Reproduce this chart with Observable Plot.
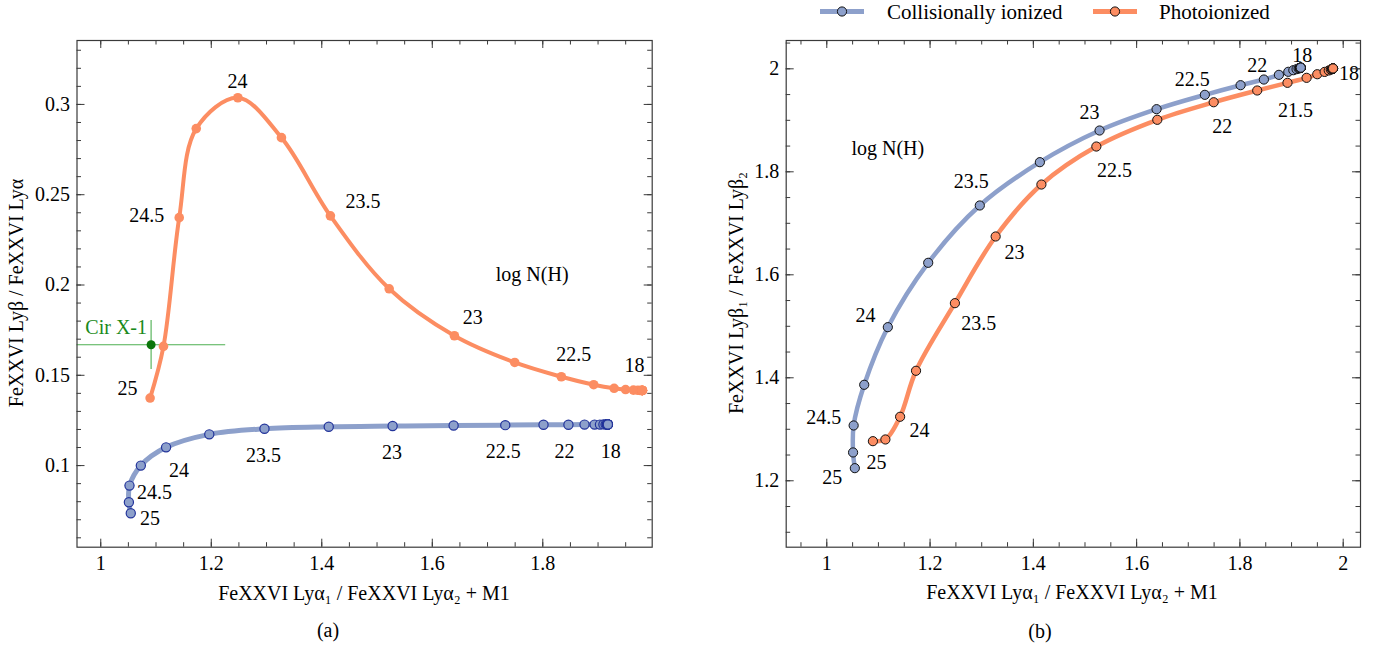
<!DOCTYPE html>
<html>
<head>
<meta charset="utf-8">
<script src="https://cdn.jsdelivr.net/npm/d3@7"></script>
<script src="https://cdn.jsdelivr.net/npm/@observablehq/plot@0.6"></script>
<style>
  html, body { margin: 0; padding: 0; background: #fff; }
  #wrap { position: relative; width: 1385px; height: 649px; overflow: hidden; font-family: "Liberation Serif", "DejaVu Serif", serif; color: #000; }
  .pane { position: absolute; top: 0; }
  .t { position: absolute; white-space: nowrap; font-size: 20px; line-height: 1; transform: translate(-50%, -50%); }
  .ty { position: absolute; white-space: nowrap; font-size: 20px; line-height: 1; transform: translate(-50%, -50%) rotate(-90deg); }
  #legend { position: absolute; left: 0; top: 0; }
</style>
</head>
<body>
<div id="wrap">
  <div id="pa" class="pane" style="left:0px"></div>
  <div id="pb" class="pane" style="left:700px"></div>
</div>
<script>
// ---------------- data ----------------
// log N(H) grid (both models)
const logNH = [25, 24.75, 24.5, 24.25, 24, 23.75, 23.5, 23.25, 23, 22.75, 22.5, 22.25, 22,
  21.75, 21.5, 21.25, 21, 20.75, 20.5, 20.25, 20, 19.75, 19.5, 19.25, 19, 18.75, 18.5, 18.25, 18];

// Collisionally ionized
const ciLya1Lya2 = [1.0543, 1.0509, 1.0520, 1.0725, 1.1182, 1.1964, 1.2963, 1.4126, 1.5282, 1.6386, 1.7321, 1.8013, 1.8464,
  1.8755, 1.8937, 1.9034, 1.9097, 1.9136, 1.9155, 1.9165, 1.9170, 1.9173, 1.9175, 1.9176, 1.9177, 1.9177, 1.9178, 1.9178, 1.9178];
const ciLybLya = [0.0736, 0.0797, 0.0889, 0.1000, 0.1101, 0.1173, 0.1204, 0.1215, 0.1219, 0.1222, 0.1224, 0.1226, 0.1226,
  0.1227, 0.1227, 0.1227, 0.1228, 0.1228, 0.1228, 0.1228, 0.1228, 0.1228, 0.1228, 0.1228, 0.1228, 0.1228, 0.1228, 0.1228, 0.1228];
const ciLyb1Lyb2 = [1.2245, 1.2550, 1.3074, 1.3864, 1.4983, 1.6233, 1.7346, 1.8187, 1.8802, 1.9216, 1.9495, 1.9682, 1.9792,
  1.9883, 1.9942, 1.9973, 1.9993, 2.0006, 2.0013, 2.0017, 2.0019, 2.0020, 2.0021, 2.0021, 2.0022, 2.0022, 2.0022, 2.0022, 2.0022];

// Photoionized
const piLya1Lya2 = [1.0893, 1.1135, 1.1420, 1.1728, 1.2481, 1.3270, 1.4156, 1.5220, 1.6400, 1.7492, 1.8335, 1.8921, 1.9291,
  1.9498, 1.9640, 1.9720, 1.9760, 1.9780, 1.9790, 1.9795, 1.9798, 1.9800, 1.9801, 1.9802, 1.9802, 1.9803, 1.9803, 1.9803, 1.9803];
const piLybLya = [0.1374, 0.1660, 0.2373, 0.2866, 0.3037, 0.2816, 0.2383, 0.1979, 0.1719, 0.1571, 0.1492, 0.1448, 0.1428,
  0.1421, 0.1418, 0.1417, 0.1416, 0.1416, 0.1416, 0.1416, 0.1416, 0.1416, 0.1416, 0.1416, 0.1416, 0.1416, 0.1416, 0.1416, 0.1416];
const piLyb1Lyb2 = [1.2769, 1.2802, 1.3243, 1.4136, 1.5449, 1.6744, 1.7753, 1.8491, 1.9010, 1.9351, 1.9579, 1.9728, 1.9825,
  1.9895, 1.9940, 1.9968, 1.9985, 1.9994, 1.9999, 2.0002, 2.0004, 2.0005, 2.0006, 2.0006, 2.0007, 2.0007, 2.0007, 2.0007, 2.0007];

// Cir X-1 measurement (value, error-bar ends)
const cirName = ["Cir X-1"];
const cirX = [1.0911], cirXlo = [0.93], cirXhi = [1.2252];
const cirY = [0.1669], cirYlo = [0.1535], cirYhi = [0.1806];
const cirLabelX = [1.0837], cirLabelY = [0.1762];

// log N(H) annotations: panel (a)
const aCiLabText = ["25", "24.5", "24", "23.5", "23", "22.5", "22", "18"];
const aCiLabX = [1.0893, 1.0971, 1.1418, 1.2946, 1.5272, 1.7283, 1.8393, 1.923];
const aCiLabY = [0.0705, 0.0852, 0.0972, 0.1057, 0.1070, 0.1078, 0.1078, 0.1075];
const aPiLabText = ["25", "24.5", "24", "23.5", "23", "22.5", "18"];
const aPiLabX = [1.0482, 1.0833, 1.2475, 1.4746, 1.6732, 1.8562, 1.966];
const aPiLabY = [0.1424, 0.2383, 0.3129, 0.2462, 0.1817, 0.1614, 0.1556];
const aTitleLab = ["log N(H)"], aTitleX = [1.7808], aTitleY = [0.2060];

// log N(H) annotations: panel (b)
const bCiLabText = ["25", "24.5", "24", "23.5", "23", "22.5", "22", "18"];
const bCiLabX = [1.0105, 0.9942, 1.075, 1.2797, 1.5088, 1.7077, 1.8336, 1.9208];
const bCiLabY = [1.207, 1.3235, 1.521, 1.7818, 1.9157, 1.9786, 2.0064, 2.0258];
const bPiLabText = ["25", "24", "23.5", "23", "22.5", "22", "21.5", "18"];
const bPiLabX = [1.0963, 1.1795, 1.2944, 1.3635, 1.5572, 1.7658, 1.9078, 2.011];
const bPiLabY = [1.235, 1.2977, 1.5049, 1.6439, 1.8025, 1.888, 1.919, 1.9915];
const bTitleLab = ["log N(H)"], bTitleX = [1.1181], bTitleY = [1.8447];

// ticks
const aXMajor = [1, 1.2, 1.4, 1.6, 1.8];
const aYMajor = [0.1, 0.15, 0.2, 0.25, 0.3];
const bXMajor = [1, 1.2, 1.4, 1.6, 1.8, 2];
const bYMajor = [1.2, 1.4, 1.6, 1.8, 2];

// texts
const seriesNames = ["Collisionally ionized", "Photoionized"];
const xTitle = "FeXXVI Lyα₁ / FeXXVI Lyα₂ + M1";
const aYTitle = "FeXXVI Lyβ / FeXXVI Lyα";
const bYTitle = "FeXXVI Lyβ₁ / FeXXVI Lyβ₂";
const panelTags = ["(a)", "(b)"];

// ---------------- layout / style ----------------
const BLUE = "#8da0cb", ORANGE = "#fc8d62";
const H = 649, FT = 40, FB = 546.7;
const FH = FB - FT;
const FRAME = "#3a3a3a";
const FONT = "'Liberation Serif', 'DejaVu Serif', serif";

const rows = (xs, ys) => xs.map((x, i) => ({x, y: ys[i], n: logNH[i]}));
const labs = (t, xs, ys) => t.map((s, i) => ({t: s, x: xs[i], y: ys[i]}));

function frameTicks(xMinor, xMajor, yMinor, yMajor, fw) {
  const mn = 4.5, mj = 8;
  const st = {stroke: FRAME, strokeWidth: 1};
  return [
    Plot.ruleX(xMinor, {...st, insetTop: FH - mn}),
    Plot.ruleX(xMinor, {...st, insetBottom: FH - mn}),
    Plot.ruleX(xMajor, {...st, insetTop: FH - mj}),
    Plot.ruleX(xMajor, {...st, insetBottom: FH - mj}),
    Plot.ruleY(yMinor, {...st, insetRight: fw - mn}),
    Plot.ruleY(yMinor, {...st, insetLeft: fw - mn}),
    Plot.ruleY(yMajor, {...st, insetRight: fw - mj}),
    Plot.ruleY(yMajor, {...st, insetLeft: fw - mj}),
    Plot.frame({stroke: FRAME, strokeWidth: 1.2})
  ];
}

const fmt = d3.format("~g");
const stepRange = (a, b, s) => {
  const out = [];
  for (let k = Math.ceil(a / s - 1e-9); k * s <= b + 1e-9; k++) out.push(+(k * s).toFixed(4));
  return out;
};

// ---------------- panel (a) ----------------
const aDomX = [0.957, 1.998], aDomY = [0.0548, 0.3354];
const aL = 76.5, aR = 651.7, aW = 700;
const aFW = aR - aL;
const aXMinor = stepRange(aDomX[0] + 0.001, aDomX[1] - 0.001, 0.05);
const aYMinor = stepRange(aDomY[0], aDomY[1], 0.01);
const cirRow = [{x: cirX[0], xlo: cirXlo[0], xhi: cirXhi[0], y: cirY[0], ylo: cirYlo[0], yhi: cirYhi[0]}];

const plotA = Plot.plot({
  width: aW, height: H,
  marginLeft: aL, marginRight: aW - aR, marginTop: FT, marginBottom: H - FB,
  style: {fontFamily: FONT, fontSize: "20px", color: "#000", background: "transparent", maxWidth: "none"},
  x: {domain: aDomX},
  y: {domain: aDomY},
  marks: [
    Plot.link(cirRow, {x1: "xlo", x2: "xhi", y1: "y", y2: "y", stroke: "#4caf50", strokeWidth: 1.1, clip: true}),
    Plot.link(cirRow, {x1: "x", x2: "x", y1: "ylo", y2: "yhi", stroke: "#4caf50", strokeWidth: 1.1}),
    Plot.line(rows(ciLya1Lya2, ciLybLya), {x: "x", y: "y", stroke: BLUE, strokeWidth: 5, curve: "catmull-rom"}),
    Plot.line(rows(piLya1Lya2, piLybLya), {x: "x", y: "y", stroke: ORANGE, strokeWidth: 4, curve: "catmull-rom"}),
    Plot.dot(rows(ciLya1Lya2, ciLybLya), {x: "x", y: "y", r: 4.6, fill: BLUE, stroke: "#22339a", strokeWidth: 1.2}),
    Plot.dot(rows(piLya1Lya2, piLybLya), {x: "x", y: "y", r: 4.8, fill: ORANGE}),
    Plot.dot(cirRow, {x: "x", y: "y", r: 4.5, fill: "#0a760a"}),
    Plot.text(cirName, {x: () => cirLabelX[0], y: () => cirLabelY[0], text: d => d, textAnchor: "end", fill: "#1a8a1a", fontSize: 20}),
    Plot.text(labs(aCiLabText, aCiLabX, aCiLabY), {x: "x", y: "y", text: "t", fontSize: 20, fill: "#000"}),
    Plot.text(labs(aPiLabText, aPiLabX, aPiLabY), {x: "x", y: "y", text: "t", fontSize: 20, fill: "#000"}),
    Plot.text(labs(aTitleLab, aTitleX, aTitleY), {x: "x", y: "y", text: "t", fontSize: 20, fill: "#000"}),
    ...frameTicks(aXMinor, aXMajor, aYMinor, aYMajor, aFW),
    Plot.axisX(aXMajor, {anchor: "bottom", tickSize: 0, tickPadding: 9, tickFormat: fmt, label: null, fontSize: 20}),
    Plot.axisY(aYMajor, {anchor: "left", tickSize: 0, tickPadding: 7, tickFormat: fmt, label: null, fontSize: 20})
  ]
});
document.getElementById("pa").appendChild(plotA);

// ---------------- panel (b) ----------------
const bDomX = [0.9214, 2.0335], bDomY = [1.071, 2.055];
const bLeft = 700, bL = 785.7 - bLeft, bW = 685, bR = 1360 - bLeft;
const bFW = bR - bL;
const bXMinor = stepRange(bDomX[0], bDomX[1], 0.05);
const bYMinor = stepRange(bDomY[0], bDomY[1], 0.05);

const plotB = Plot.plot({
  width: bW, height: H,
  marginLeft: bL, marginRight: bW - bR, marginTop: FT, marginBottom: H - FB,
  style: {fontFamily: FONT, fontSize: "20px", color: "#000", background: "transparent", maxWidth: "none"},
  x: {domain: bDomX},
  y: {domain: bDomY},
  marks: [
    Plot.line(rows(ciLya1Lya2, ciLyb1Lyb2), {x: "x", y: "y", stroke: BLUE, strokeWidth: 4.5, curve: "catmull-rom"}),
    Plot.line(rows(piLya1Lya2, piLyb1Lyb2), {x: "x", y: "y", stroke: ORANGE, strokeWidth: 4.5, curve: "catmull-rom"}),
    Plot.dot(rows(ciLya1Lya2, ciLyb1Lyb2), {x: "x", y: "y", r: 4.6, fill: BLUE, stroke: "#111", strokeWidth: 1}),
    Plot.dot(rows(piLya1Lya2, piLyb1Lyb2), {x: "x", y: "y", r: 4.6, fill: ORANGE, stroke: "#111", strokeWidth: 1}),
    Plot.text(labs(bCiLabText, bCiLabX, bCiLabY), {x: "x", y: "y", text: "t", fontSize: 20, fill: "#000"}),
    Plot.text(labs(bPiLabText, bPiLabX, bPiLabY), {x: "x", y: "y", text: "t", fontSize: 20, fill: "#000"}),
    Plot.text(labs(bTitleLab, bTitleX, bTitleY), {x: "x", y: "y", text: "t", fontSize: 20, fill: "#000"}),
    ...frameTicks(bXMinor, bXMajor, bYMinor, bYMajor, bFW),
    Plot.axisX(bXMajor, {anchor: "bottom", tickSize: 0, tickPadding: 9, tickFormat: fmt, label: null, fontSize: 20}),
    Plot.axisY(bYMajor, {anchor: "left", tickSize: 0, tickPadding: 7, tickFormat: fmt, label: null, fontSize: 20})
  ]
});
document.getElementById("pb").appendChild(plotB);

// ---------------- titles, captions, legend ----------------
const wrap = document.getElementById("wrap");
function addText(cls, txt, cx, cy) {
  const d = document.createElement("div");
  d.className = cls; d.textContent = txt;
  d.style.left = cx + "px"; d.style.top = cy + "px";
  wrap.appendChild(d);
}
addText("t", xTitle, 364, 593);
addText("t", xTitle, 1072, 592);
addText("ty", aYTitle, 16, 293);
addText("ty", bYTitle, 736, 293);
addText("t", panelTags[0], 328, 630);
addText("t", panelTags[1], 1040, 631);

// legend (swatches + names)
const ns = "http://www.w3.org/2000/svg";
const lg = document.createElementNS(ns, "svg");
lg.setAttribute("id", "legend");
lg.setAttribute("width", 1385); lg.setAttribute("height", 30);
const legItems = [
  {name: seriesNames[0], color: BLUE, x0: 820, tx: 887},
  {name: seriesNames[1], color: ORANGE, x0: 1093, tx: 1159}
];
for (const it of legItems) {
  const ln = document.createElementNS(ns, "line");
  ln.setAttribute("x1", it.x0); ln.setAttribute("x2", it.x0 + 44);
  ln.setAttribute("y1", 11.5); ln.setAttribute("y2", 11.5);
  ln.setAttribute("stroke", it.color); ln.setAttribute("stroke-width", 5);
  lg.appendChild(ln);
  const c = document.createElementNS(ns, "circle");
  c.setAttribute("cx", it.x0 + 22); c.setAttribute("cy", 11.5); c.setAttribute("r", 4.6);
  c.setAttribute("fill", it.color); c.setAttribute("stroke", "#111");
  lg.appendChild(c);
  const t = document.createElementNS(ns, "text");
  t.setAttribute("x", it.tx); t.setAttribute("y", 18.5);
  t.setAttribute("font-family", FONT); t.setAttribute("font-size", 21); t.setAttribute("fill", "#000");
  t.textContent = it.name;
  lg.appendChild(t);
}
wrap.appendChild(lg);
</script>
</body>
</html>
